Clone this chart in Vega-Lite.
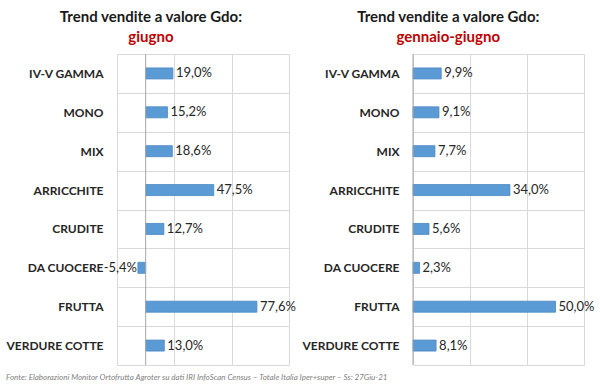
{
  "$schema": "https://vega.github.io/schema/vega-lite/v6.json",
  "padding": {"left": 6, "top": 10, "right": 10, "bottom": 3},
  "background": "white",
  "title": {
    "text": "Fonte: Elaborazioni Monitor Ortofrutta Agroter su dati IRI InfoScan Census – Totale Italia Iper+super – Ss: 27Giu-21",
    "orient": "bottom", "anchor": "start", "frame": "bounds",
    "font": "Lato", "fontSize": 8, "fontStyle": "italic", "fontWeight": "normal",
    "color": "#7f7f7f", "offset": 8
  },
  "datasets": {
    "giugno": [
      {"categoria": "IV-V GAMMA", "valore": 0.190},
      {"categoria": "MONO", "valore": 0.152},
      {"categoria": "MIX", "valore": 0.186},
      {"categoria": "ARRICCHITE", "valore": 0.475},
      {"categoria": "CRUDITE", "valore": 0.127},
      {"categoria": "DA CUOCERE", "valore": -0.054},
      {"categoria": "FRUTTA", "valore": 0.776},
      {"categoria": "VERDURE COTTE", "valore": 0.130}
    ],
    "gennaio": [
      {"categoria": "IV-V GAMMA", "valore": 0.099},
      {"categoria": "MONO", "valore": 0.091},
      {"categoria": "MIX", "valore": 0.077},
      {"categoria": "ARRICCHITE", "valore": 0.340},
      {"categoria": "CRUDITE", "valore": 0.056},
      {"categoria": "DA CUOCERE", "valore": 0.023},
      {"categoria": "FRUTTA", "valore": 0.500},
      {"categoria": "VERDURE COTTE", "valore": 0.081}
    ]
  },
  "spacing": 124,
  "bounds": "flush",
  "hconcat": [
    {
      "width": 172, "height": 311,
      "title": {"text": "Trend vendite a valore Gdo:", "subtitle": "giugno"},
      "data": {"name": "giugno"},
      "layer": [
        {
          "mark": {"type": "bar", "size": 11, "color": "#5B9BD5", "stroke": "#4A86C0", "strokeWidth": 0.8},
          "encoding": {
            "y": {"field": "categoria", "type": "nominal", "sort": null,
                  "scale": {"paddingInner": 0, "paddingOuter": 0},
                  "axis": {"title": null, "domain": false, "ticks": false, "grid": true, "tickBand": "extent",
                           "gridColor": "#d9d9d9", "labelFont": "Lato", "labelFontWeight": "bold",
                           "labelFontSize": 12, "labelColor": "#262626", "labelPadding": 14,
                           "minExtent": 106, "maxExtent": 106}},
            "x": {"field": "valore", "type": "quantitative",
                  "scale": {"domain": [-0.2, 1.0], "nice": false, "zero": false},
                  "axis": {"title": null, "labels": false, "ticks": false, "domain": false, "grid": true,
                           "gridColor": "#d9d9d9", "values": [-0.2, 0, 0.2, 0.4, 0.6, 0.8, 1.0]}}
          }
        },
        {
          "data": {"values": [{}]},
          "mark": {"type": "rule", "color": "#a6a6a6", "strokeWidth": 1},
          "encoding": {"x": {"datum": 0}}
        },
        {
          "transform": [{"filter": "datum.valore >= 0"}],
          "mark": {"type": "text", "align": "left", "dx": 3, "font": "Lato", "fontSize": 13, "color": "#262626"},
          "encoding": {
            "y": {"field": "categoria", "type": "nominal", "sort": null},
            "x": {"field": "valore", "type": "quantitative"},
            "text": {"field": "valore", "type": "quantitative", "format": ".1%"}
          }
        },
        {
          "transform": [{"filter": "datum.valore < 0"}],
          "mark": {"type": "text", "align": "right", "dx": -1, "font": "Lato", "fontSize": 13, "color": "#262626"},
          "encoding": {
            "y": {"field": "categoria", "type": "nominal", "sort": null},
            "x": {"field": "valore", "type": "quantitative"},
            "text": {"field": "valore", "type": "quantitative", "format": ".1%"}
          }
        }
      ]
    },
    {
      "width": 171, "height": 311,
      "title": {"text": "Trend vendite a valore Gdo:", "subtitle": "gennaio-giugno"},
      "data": {"name": "gennaio"},
      "layer": [
        {
          "mark": {"type": "bar", "size": 11, "color": "#5B9BD5", "stroke": "#4A86C0", "strokeWidth": 0.8},
          "encoding": {
            "y": {"field": "categoria", "type": "nominal", "sort": null,
                  "scale": {"paddingInner": 0, "paddingOuter": 0},
                  "axis": {"title": null, "domain": false, "ticks": false, "grid": true, "tickBand": "extent",
                           "gridColor": "#d9d9d9", "labelFont": "Lato", "labelFontWeight": "bold",
                           "labelFontSize": 12, "labelColor": "#262626", "labelPadding": 14,
                           "minExtent": 106, "maxExtent": 106}},
            "x": {"field": "valore", "type": "quantitative",
                  "scale": {"domain": [0, 0.6], "nice": false},
                  "axis": {"title": null, "labels": false, "ticks": false, "domain": false, "grid": true,
                           "gridColor": "#d9d9d9", "values": [0, 0.2, 0.4, 0.6]}}
          }
        },
        {
          "data": {"values": [{}]},
          "mark": {"type": "rule", "color": "#a6a6a6", "strokeWidth": 1},
          "encoding": {"x": {"datum": 0}}
        },
        {
          "mark": {"type": "text", "align": "left", "dx": 3, "font": "Lato", "fontSize": 13, "color": "#262626"},
          "encoding": {
            "y": {"field": "categoria", "type": "nominal", "sort": null},
            "x": {"field": "valore", "type": "quantitative"},
            "text": {"field": "valore", "type": "quantitative", "format": ".1%"}
          }
        }
      ]
    }
  ],
  "resolve": {"scale": {"x": "independent", "y": "independent"}},
  "config": {
    "locale": {"number": {"decimal": ",", "thousands": ".", "grouping": [3], "currency": ["", " €"], "minus": "-"}},
    "view": {"stroke": null},
    "title": {
      "anchor": "middle", "frame": "bounds", "font": "Lato", "fontSize": 15, "fontWeight": "bold", "color": "#1a1a1a",
      "subtitleFont": "Lato", "subtitleFontSize": 15, "subtitleFontWeight": "bold", "subtitleColor": "#C00000",
      "subtitlePadding": 5, "offset": 3
    }
  }
}
